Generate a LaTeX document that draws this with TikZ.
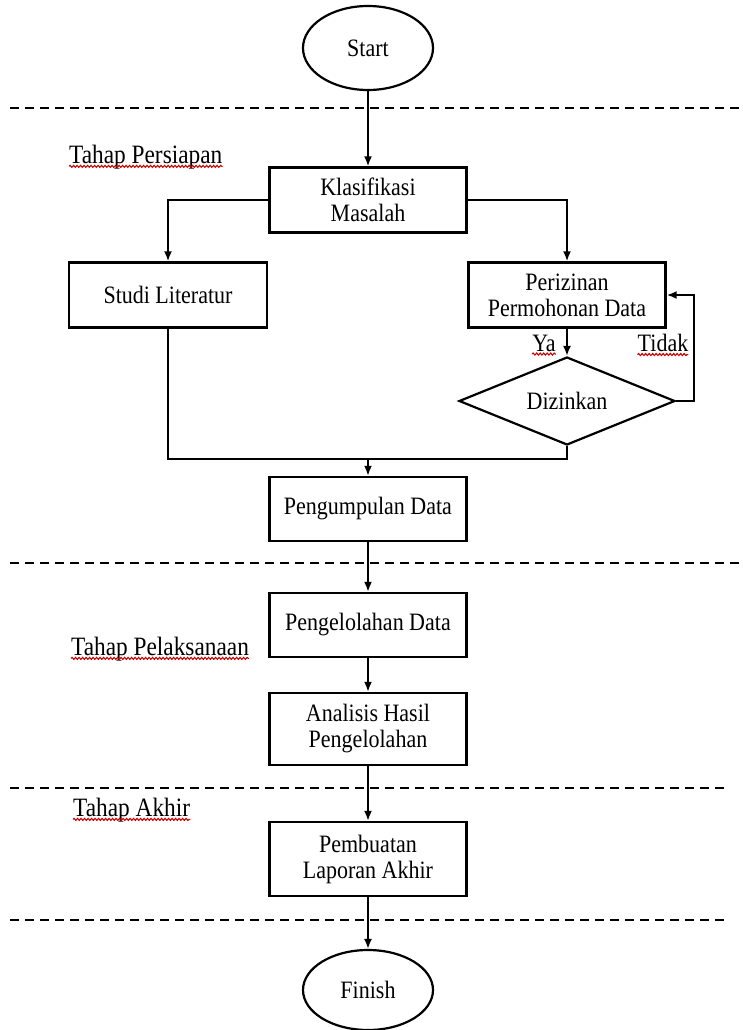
\documentclass[tikz,border=0pt]{standalone}
\usepackage{fontspec}
% slightly condensed, tall serif face
\setmainfont{Liberation Serif}[FakeStretch=0.88]
\usetikzlibrary{shapes.geometric,arrows.meta,decorations.pathmorphing}
\begin{document}
\begin{tikzpicture}[x=1pt,y=-1pt,
  every node/.style={font=\fontsize{25}{26}\selectfont},
  box/.style={draw,line width=2.4pt,minimum width=197pt,inner sep=0pt,align=center},
  terminal/.style={draw,ellipse,line width=2.2pt,minimum width=130pt,minimum height=84pt,inner sep=0pt},
  decision/.style={draw,diamond,line width=2.2pt,minimum width=216pt,minimum height=88pt,inner sep=0pt,shape aspect=2.45},
  phase/.style={anchor=west,inner sep=0pt,font=\fontsize{26.5}{28}\selectfont},
  flow/.style={line width=1.9pt,-{Latex[length=10pt,width=8pt]}},
  link/.style={line width=1.9pt},
  sep/.style={line width=2pt,dash pattern=on 9pt off 6pt},
  spell/.style={red!80!black,line width=1.1pt,decorate,
    decoration={snake,amplitude=1pt,segment length=3.5pt}}]
\useasboundingbox (0,0) rectangle (743,1030);

% section separators
\draw[sep] (10,108) -- (743,108);
\draw[sep] (10,563) -- (743,563);
\draw[sep] (10,788) -- (727,788);
\draw[sep] (10,920) -- (727,920);

% phase labels
\node[phase] (p1) at (69,157) {Tahap Persiapan};
\node[phase] (p2) at (71,649) {Tahap Pelaksanaan};
\node[phase] (p3) at (73,810) {Tahap Akhir};
\foreach \n in {p1,p2,p3}
  \draw[spell] ([yshift=-3pt]\n.base west) -- ([yshift=-3pt]\n.base east);

% process nodes
\node[terminal] (start) at (368,48) {Start};
\node[box,minimum height=65pt] (klas) at (368,200) {Klasifikasi\\Masalah};
\node[box,minimum height=65pt,minimum width=198pt] (studi) at (168,295) {Studi Literatur};
\node[box,minimum height=65pt] (periz) at (567,295) {Perizinan\\Permohonan Data};
\node[decision] (diz) at (567,401) {Dizinkan};
\node[box,minimum height=64pt] (kumpul) at (368,509) {Pengumpulan Data};
\node[box,minimum height=64pt] (olah) at (368,625) {Pengelolahan Data};
\node[box,minimum height=72pt] (anal) at (368,729) {Analisis Hasil\\Pengelolahan};
\node[box,minimum height=74pt] (lapor) at (368,859) {Pembuatan\\Laporan Akhir};
\node[terminal,minimum height=80pt] (finish) at (368,990) {Finish};

% decision labels
\node[inner sep=0pt] (ya) at (544,343) {Ya};
\node[inner sep=0pt] (tidak) at (663,343) {Tidak};
\foreach \n in {ya,tidak}
  \draw[spell] ([yshift=-3pt]\n.base west) -- ([yshift=-3pt]\n.base east);

% connectors
\coordinate (merge) at (368,459);
\draw[flow] (start) -- (klas);
\draw[flow] (klas.west) -| (studi.north);
\draw[flow] (klas.east) -| (periz.north);
\draw[flow] (periz) -- (diz);
\draw[flow] (diz.east) -- ++(18,0) |- (periz.east);
\draw[link] (studi.south) -- (studi.south |- merge) -- (diz.south |- merge) -- (diz.south);
\draw[flow] (merge) -- (kumpul);
\draw[flow] (kumpul) -- (olah);
\draw[flow] (olah) -- (anal);
\draw[flow] (anal) -- (lapor);
\draw[flow] (lapor) -- (finish);
\end{tikzpicture}
\end{document}
